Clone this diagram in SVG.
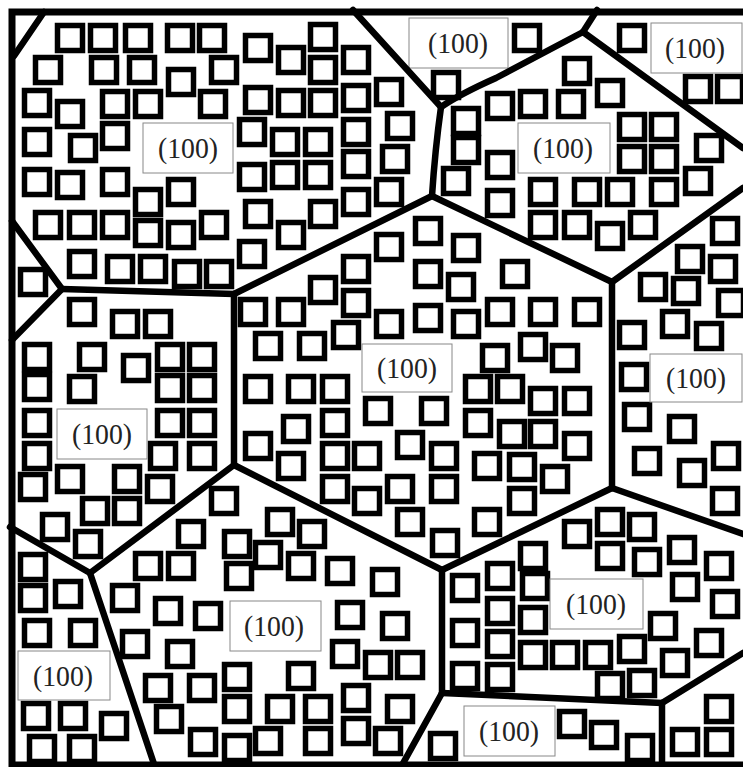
<svg xmlns="http://www.w3.org/2000/svg" xmlns:xlink="http://www.w3.org/1999/xlink" width="743" height="767" viewBox="0 0 743 767">
<style>
.q{fill:#fff;stroke:#000;stroke-width:5.5}
.b{fill:#fff;stroke:#888;stroke-width:1}
.t{font-family:"Liberation Serif","Times New Roman",serif;font-size:30px;fill:#222;text-anchor:middle}
.gb{fill:none;stroke:#000;stroke-width:6.5;stroke-linejoin:round;stroke-linecap:round}
.fr{fill:none;stroke:#000;stroke-width:7}
</style>
<defs>
<rect id="q" class="q" x="2.5" y="2.5" width="25" height="25"/>
</defs>
<rect width="743" height="767" fill="#fff"/>
<g id="grain-top-left">
<use href="#q" x="55" y="23"/><use href="#q" x="88" y="23"/><use href="#q" x="123" y="23"/><use href="#q" x="165" y="23"/><use href="#q" x="197" y="23"/><use href="#q" x="243" y="33"/>
<use href="#q" x="33" y="55"/><use href="#q" x="89" y="55"/><use href="#q" x="127" y="55"/><use href="#q" x="166" y="67"/><use href="#q" x="209" y="55"/><use href="#q" x="243" y="85"/>
<use href="#q" x="22" y="88"/><use href="#q" x="55" y="99"/><use href="#q" x="100" y="89"/><use href="#q" x="133" y="89"/><use href="#q" x="198" y="89"/>
<use href="#q" x="100" y="121"/><use href="#q" x="68" y="133"/><use href="#q" x="22" y="127"/><use href="#q" x="237" y="117"/><use href="#q" x="237" y="162"/>
<use href="#q" x="22" y="167"/><use href="#q" x="55" y="170"/><use href="#q" x="100" y="167"/><use href="#q" x="133" y="187"/><use href="#q" x="166" y="177"/>
<use href="#q" x="33" y="210"/><use href="#q" x="67" y="210"/><use href="#q" x="100" y="210"/><use href="#q" x="133" y="218"/><use href="#q" x="166" y="220"/><use href="#q" x="199" y="210"/><use href="#q" x="243" y="199"/><use href="#q" x="237" y="239"/>
<use href="#q" x="67" y="249"/><use href="#q" x="105" y="254"/><use href="#q" x="138" y="254"/><use href="#q" x="172" y="259"/><use href="#q" x="204" y="259"/>
<use href="#q" x="276" y="45"/><use href="#q" x="308" y="22"/><use href="#q" x="308" y="55"/><use href="#q" x="341" y="45"/>
<use href="#q" x="276" y="88"/><use href="#q" x="308" y="88"/><use href="#q" x="341" y="83"/><use href="#q" x="374" y="77"/>
<use href="#q" x="270" y="127"/><use href="#q" x="303" y="127"/><use href="#q" x="341" y="117"/><use href="#q" x="385" y="111"/>
<use href="#q" x="270" y="160"/><use href="#q" x="303" y="160"/><use href="#q" x="341" y="149"/><use href="#q" x="380" y="144"/>
<use href="#q" x="341" y="187"/><use href="#q" x="374" y="177"/><use href="#q" x="308" y="199"/><use href="#q" x="276" y="220"/>
<rect class="b" x="143" y="123" width="90" height="50"/><text class="t" x="188" y="158" textLength="60" lengthAdjust="spacingAndGlyphs">(100)</text>
</g>
<g id="grain-left-small">
<use href="#q" x="18" y="267"/>
</g>
<g id="grain-top-middle">
<use href="#q" x="431" y="70"/><use href="#q" x="512" y="23"/>
<rect class="b" x="409" y="18" width="99" height="50"/><text class="t" x="458" y="53" textLength="60" lengthAdjust="spacingAndGlyphs">(100)</text>
</g>
<g id="grain-top-right">
<use href="#q" x="617" y="23"/><use href="#q" x="683" y="74"/><use href="#q" x="715" y="74"/>
<rect class="b" x="651" y="23" width="91" height="50"/><text class="t" x="695" y="58" textLength="60" lengthAdjust="spacingAndGlyphs">(100)</text>
</g>
<g id="grain-upper-right">
<use href="#q" x="451" y="106"/><use href="#q" x="451" y="135"/><use href="#q" x="485" y="91"/><use href="#q" x="485" y="150"/><use href="#q" x="441" y="166"/>
<use href="#q" x="562" y="56"/><use href="#q" x="595" y="78"/><use href="#q" x="518" y="89"/><use href="#q" x="556" y="89"/>
<use href="#q" x="617" y="112"/><use href="#q" x="649" y="112"/><use href="#q" x="617" y="144"/><use href="#q" x="649" y="144"/><use href="#q" x="694" y="133"/>
<use href="#q" x="528" y="177"/><use href="#q" x="572" y="177"/><use href="#q" x="605" y="177"/><use href="#q" x="649" y="177"/><use href="#q" x="683" y="166"/><use href="#q" x="485" y="188"/>
<use href="#q" x="528" y="210"/><use href="#q" x="562" y="210"/><use href="#q" x="595" y="221"/><use href="#q" x="628" y="210"/>
<rect class="b" x="518" y="123" width="92" height="50"/><text class="t" x="563" y="158" textLength="60" lengthAdjust="spacingAndGlyphs">(100)</text>
</g>
<g id="grain-right">
<use href="#q" x="710" y="216"/><use href="#q" x="675" y="244"/><use href="#q" x="708" y="254"/><use href="#q" x="638" y="272"/><use href="#q" x="671" y="276"/><use href="#q" x="716" y="288"/>
<use href="#q" x="660" y="309"/><use href="#q" x="694" y="321"/><use href="#q" x="617" y="320"/><use href="#q" x="619" y="362"/>
<use href="#q" x="622" y="402"/><use href="#q" x="667" y="414"/><use href="#q" x="632" y="446"/><use href="#q" x="677" y="458"/><use href="#q" x="711" y="441"/><use href="#q" x="710" y="486"/>
<rect class="b" x="650" y="354" width="92" height="48"/><text class="t" x="696" y="388" textLength="60" lengthAdjust="spacingAndGlyphs">(100)</text>
</g>
<g id="grain-center">
<use href="#q" x="413" y="216"/><use href="#q" x="451" y="233"/><use href="#q" x="374" y="232"/><use href="#q" x="341" y="254"/><use href="#q" x="413" y="259"/>
<use href="#q" x="308" y="275"/><use href="#q" x="341" y="288"/><use href="#q" x="446" y="272"/><use href="#q" x="238" y="297"/><use href="#q" x="276" y="297"/>
<use href="#q" x="374" y="309"/><use href="#q" x="413" y="303"/><use href="#q" x="451" y="309"/><use href="#q" x="485" y="297"/>
<use href="#q" x="253" y="331"/><use href="#q" x="297" y="331"/><use href="#q" x="331" y="320"/><use href="#q" x="480" y="343"/>
<use href="#q" x="243" y="374"/><use href="#q" x="286" y="374"/><use href="#q" x="320" y="374"/><use href="#q" x="463" y="374"/><use href="#q" x="495" y="374"/>
<use href="#q" x="500" y="259"/><use href="#q" x="528" y="297"/><use href="#q" x="572" y="297"/><use href="#q" x="518" y="332"/><use href="#q" x="550" y="343"/>
<use href="#q" x="528" y="386"/><use href="#q" x="562" y="386"/><use href="#q" x="497" y="419"/><use href="#q" x="528" y="419"/><use href="#q" x="562" y="431"/>
<use href="#q" x="507" y="452"/><use href="#q" x="540" y="464"/><use href="#q" x="507" y="486"/>
<use href="#q" x="363" y="396"/><use href="#q" x="419" y="396"/><use href="#q" x="320" y="408"/><use href="#q" x="281" y="414"/><use href="#q" x="463" y="408"/>
<use href="#q" x="243" y="431"/><use href="#q" x="276" y="451"/><use href="#q" x="320" y="441"/><use href="#q" x="352" y="441"/><use href="#q" x="395" y="430"/><use href="#q" x="429" y="441"/>
<use href="#q" x="320" y="474"/><use href="#q" x="352" y="486"/><use href="#q" x="385" y="474"/><use href="#q" x="429" y="474"/><use href="#q" x="472" y="451"/>
<use href="#q" x="395" y="507"/><use href="#q" x="472" y="507"/><use href="#q" x="430" y="528"/>
<rect class="b" x="362" y="344" width="90" height="48"/><text class="t" x="407" y="378" textLength="60" lengthAdjust="spacingAndGlyphs">(100)</text>
</g>
<g id="grain-left">
<use href="#q" x="67" y="297"/><use href="#q" x="110" y="309"/><use href="#q" x="143" y="309"/>
<use href="#q" x="22" y="342"/><use href="#q" x="77" y="342"/><use href="#q" x="121" y="353"/><use href="#q" x="155" y="342"/><use href="#q" x="187" y="342"/>
<use href="#q" x="22" y="372"/><use href="#q" x="67" y="374"/><use href="#q" x="155" y="373"/><use href="#q" x="187" y="373"/>
<use href="#q" x="22" y="408"/><use href="#q" x="155" y="408"/><use href="#q" x="187" y="408"/>
<use href="#q" x="22" y="441"/><use href="#q" x="148" y="441"/><use href="#q" x="187" y="441"/>
<use href="#q" x="18" y="472"/><use href="#q" x="55" y="464"/><use href="#q" x="112" y="464"/><use href="#q" x="145" y="474"/>
<use href="#q" x="80" y="496"/><use href="#q" x="112" y="496"/><use href="#q" x="40" y="512"/><use href="#q" x="73" y="529"/>
<rect class="b" x="57" y="409" width="90" height="50"/><text class="t" x="102" y="444" textLength="60" lengthAdjust="spacingAndGlyphs">(100)</text>
</g>
<g id="grain-bottom-left">
<use href="#q" x="18" y="552"/><use href="#q" x="18" y="583"/><use href="#q" x="53" y="579"/><use href="#q" x="22" y="618"/><use href="#q" x="68" y="618"/>
<use href="#q" x="21" y="701"/><use href="#q" x="58" y="701"/><use href="#q" x="99" y="711"/><use href="#q" x="27" y="734"/><use href="#q" x="67" y="734"/>
<rect class="b" x="18" y="651" width="92" height="49"/><text class="t" x="63" y="686" textLength="60" lengthAdjust="spacingAndGlyphs">(100)</text>
</g>
<g id="grain-bottom-center">
<use href="#q" x="209" y="486"/><use href="#q" x="176" y="519"/><use href="#q" x="222" y="529"/><use href="#q" x="224" y="561"/><use href="#q" x="133" y="551"/><use href="#q" x="166" y="551"/>
<use href="#q" x="110" y="583"/><use href="#q" x="153" y="596"/><use href="#q" x="193" y="601"/><use href="#q" x="120" y="629"/><use href="#q" x="165" y="639"/>
<use href="#q" x="143" y="673"/><use href="#q" x="187" y="673"/><use href="#q" x="222" y="662"/><use href="#q" x="222" y="694"/><use href="#q" x="154" y="704"/><use href="#q" x="188" y="727"/><use href="#q" x="222" y="733"/>
<use href="#q" x="265" y="507"/><use href="#q" x="297" y="519"/><use href="#q" x="253" y="540"/><use href="#q" x="286" y="551"/><use href="#q" x="325" y="556"/><use href="#q" x="370" y="567"/>
<use href="#q" x="335" y="600"/><use href="#q" x="380" y="611"/><use href="#q" x="330" y="639"/><use href="#q" x="363" y="650"/><use href="#q" x="395" y="650"/><use href="#q" x="286" y="661"/>
<use href="#q" x="341" y="683"/><use href="#q" x="385" y="694"/><use href="#q" x="265" y="694"/><use href="#q" x="303" y="694"/>
<use href="#q" x="341" y="716"/><use href="#q" x="373" y="726"/><use href="#q" x="253" y="726"/><use href="#q" x="303" y="726"/>
<rect class="b" x="230" y="601" width="91" height="50"/><text class="t" x="274" y="636" textLength="60" lengthAdjust="spacingAndGlyphs">(100)</text>
</g>
<g id="grain-lower-right">
<use href="#q" x="450" y="573"/><use href="#q" x="485" y="561"/><use href="#q" x="450" y="618"/><use href="#q" x="450" y="661"/><use href="#q" x="485" y="596"/><use href="#q" x="485" y="629"/><use href="#q" x="485" y="662"/>
<use href="#q" x="518" y="541"/><use href="#q" x="520" y="571"/><use href="#q" x="518" y="605"/><use href="#q" x="518" y="640"/><use href="#q" x="550" y="640"/><use href="#q" x="583" y="640"/><use href="#q" x="617" y="634"/>
<use href="#q" x="595" y="671"/><use href="#q" x="627" y="668"/><use href="#q" x="648" y="611"/><use href="#q" x="660" y="648"/><use href="#q" x="694" y="628"/><use href="#q" x="710" y="589"/><use href="#q" x="670" y="572"/><use href="#q" x="704" y="551"/>
<use href="#q" x="595" y="507"/><use href="#q" x="627" y="512"/><use href="#q" x="562" y="519"/><use href="#q" x="595" y="541"/><use href="#q" x="632" y="547"/><use href="#q" x="667" y="535"/>
<rect class="b" x="550" y="579" width="93" height="50"/><text class="t" x="596" y="614" textLength="60" lengthAdjust="spacingAndGlyphs">(100)</text>
</g>
<g id="grain-bottom">
<use href="#q" x="428" y="731"/><use href="#q" x="557" y="709"/><use href="#q" x="589" y="720"/><use href="#q" x="625" y="733"/>
<rect class="b" x="464" y="706" width="91" height="50"/><text class="t" x="509" y="741" textLength="60" lengthAdjust="spacingAndGlyphs">(100)</text>
</g>
<g id="grain-bottom-right">
<use href="#q" x="704" y="694"/><use href="#q" x="670" y="727"/><use href="#q" x="704" y="727"/>
</g>
<g id="boundaries">
<path class="gb" d="M14,56 L44,12"/>
<path class="gb" d="M353,10 L441,107"/>
<path class="gb" d="M441,107 Q460,94 496,78 L583,32"/>
<path class="gb" d="M583,32 L597,10"/>
<path class="gb" d="M583,32 L743,148"/>
<path class="gb" d="M441,107 Q435,150 432,196"/>
<path class="gb" d="M432,196 L612,282"/>
<path class="gb" d="M612,282 L743,188"/>
<path class="gb" d="M612,282 L612,488"/>
<path class="gb" d="M612,488 L743,534"/>
<path class="gb" d="M612,488 L496,544 L442,570"/>
<path class="gb" d="M432,196 L234,294"/>
<path class="gb" d="M234,294 L62,289"/>
<path class="gb" d="M62,289 L12,221"/>
<path class="gb" d="M62,289 L12,340"/>
<path class="gb" d="M234,294 L234,465"/>
<path class="gb" d="M234,465 L90,573"/>
<path class="gb" d="M10,527 L90,573"/>
<path class="gb" d="M90,573 L155,767"/>
<path class="gb" d="M234,465 L442,570"/>
<path class="gb" d="M442,570 L442,693"/>
<path class="gb" d="M442,693 L401,767"/>
<path class="gb" d="M442,693 L662,703"/>
<path class="gb" d="M662,703 L743,653"/>
<path class="gb" d="M662,703 L662,767"/>
</g>
<path class="fr" d="M743,12 H12 V765 H743"/>
</svg>
